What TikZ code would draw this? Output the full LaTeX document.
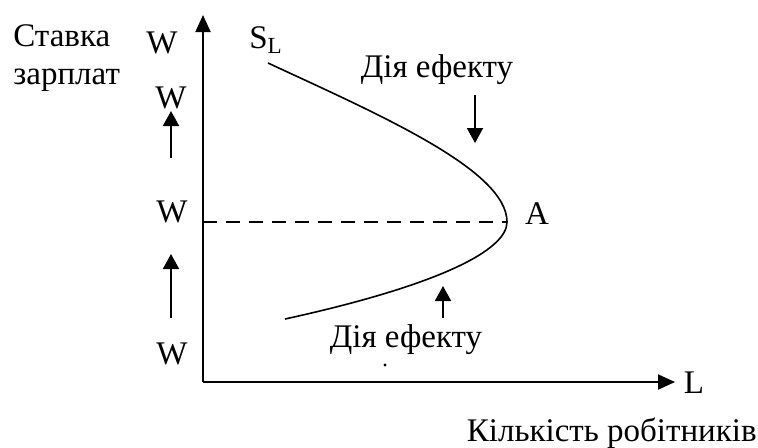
\documentclass[tikz,border=0pt]{standalone}
\usepackage{fontspec}
\setmainfont{Liberation Serif}
\usepackage{tikz}
\usetikzlibrary{arrows.meta}
\usetikzlibrary{positioning}

\tikzset{
    lbl/.style={inner sep=0pt, font=\fontsize{16.5}{19}\selectfont},
    axis/.style={line width=1pt, -{Triangle[length=8.5pt, width=7.5pt]}},
    shift arrow/.style={line width=1pt, -{Triangle[length=7.5pt, width=8pt]}},
}

\begin{document}
\begin{tikzpicture}[x=0.5pt, y=-0.5pt]
    \useasboundingbox (0,0) rectangle (758,447);
    % axes
    \coordinate (O) at (203,382);
    \coordinate (ytop) at (203,15);
    \coordinate (xend) at (675,382);
    \draw[axis] (O) -- (ytop);
    \draw[axis] (O) -- (xend);
    \node[lbl] (L) at (694,383) {L};
    \node[lbl, anchor=north east] (xname) at (757,417) {Кількість робітників};
    \node[lbl, anchor=north west, align=left] (yname) at (13,24) {Ставка\\зарплат};

    % wage levels
    \node[lbl] (w1) at (162,43) {W};
    \node[lbl] (w2) at (171,98) {W};
    \node[lbl] (w0) at (172,212) {W};
    \node[lbl] (w3) at (172,354) {W};
    \coordinate (a2s) at (171,158);
    \coordinate (a2e) at (171,111);
    \coordinate (a3s) at (171,318);
    \coordinate (a3e) at (171,254);
    \draw[shift arrow] (a2s) -- (a2e);
    \draw[shift arrow] (a3s) -- (a3e);

    % supply curve of labour
    \coordinate (top) at (268,63);
    \coordinate (A) at (507,222);
    \coordinate (bot) at (285,319);
    \draw[line width=0.8pt] (top) .. controls (380,115) and (507,170) .. (A)
        .. controls (507,250) and (440,285) .. (bot);
    \coordinate (yA) at (203,222);
    \draw[line width=0.8pt, dash pattern=on 7pt off 4.5pt] (yA) -- (A);
    \node[lbl] (Alab) at (537,214) {A};
    \node[lbl] (SL) at (266,40) {S\textsubscript{L}};

    % effects
    \node[lbl] (eff1) at (437,70) {Дія ефекту};
    \node[lbl] (eff2) at (406,340) {Дія ефекту};
    \coordinate (e1s) at (475,95);
    \coordinate (e1e) at (475,143);
    \coordinate (e2s) at (443,318);
    \coordinate (e2e) at (443,286);
    \draw[shift arrow] (e1s) -- (e1e);
    \draw[shift arrow] (e2s) -- (e2e);
    \fill (385,365) circle (0.8pt);
\end{tikzpicture}
\end{document}
